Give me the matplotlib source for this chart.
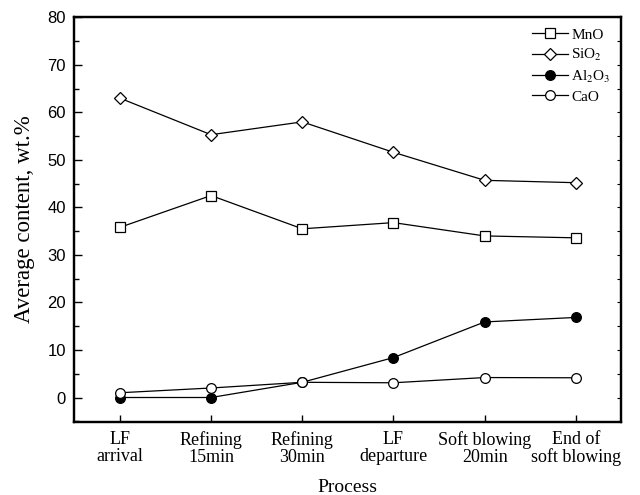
## imports
import matplotlib
matplotlib.use("Agg")
import matplotlib.pyplot as plt
from matplotlib.ticker import MultipleLocator

## data
stages = ["LF\narrival", "Refining\n15min", "Refining\n30min",
          "LF\ndeparture", "Soft blowing\n20min", "End of\nsoft blowing"]
mno = [35.8, 42.5, 35.5, 36.8, 34.0, 33.6]
sio2 = [63.0, 55.3, 58.0, 51.6, 45.7, 45.2]
al2o3 = [0.0, 0.0, 3.2, 8.4, 15.9, 16.85]
cao = [1.0, 2.0, 3.2, 3.1, 4.2, 4.15]

plt.rcParams['mathtext.fontset'] = 'stix'
serif = "Liberation Serif"
sans = "Liberation Sans"

fig = plt.figure(figsize=(6.4, 4.95), dpi=100)
ax = fig.add_axes([0.116, 0.148, 0.855, 0.817])
x = list(range(len(stages)))

## draw the four series
ax.plot(x, mno, color='black', lw=0.9, marker='s', ms=6.5, mfc='white', mec='black', mew=0.9, label='MnO')
ax.plot(x, sio2, color='black', lw=0.9, marker='D', ms=6.5, mfc='white', mec='black', mew=0.9, label='SiO$_2$')
ax.plot(x, al2o3, color='black', lw=0.9, marker='o', ms=7, mfc='black', mec='black', mew=0.9, label='Al$_2$O$_3$')
ax.plot(x, cao, color='black', lw=0.9, marker='o', ms=7, mfc='white', mec='black', mew=0.9, label='CaO')

## axes setup
ax.set_xlim(-0.5, 5.5)
ax.set_ylim(-5.1, 80)
ax.yaxis.set_major_locator(MultipleLocator(10))
ax.yaxis.set_minor_locator(MultipleLocator(5))
ax.set_xticks(x)
ax.set_xticklabels(stages, fontfamily=serif, fontsize=13, linespacing=1.0)
for lbl in ax.get_yticklabels():
    lbl.set_fontfamily(sans)
    lbl.set_fontsize(12)
ax.tick_params(axis='y', which='both', direction='in', left=True, right=False, pad=6)
ax.tick_params(axis='y', which='major', length=6, width=1)
ax.tick_params(axis='y', which='minor', length=3.5, width=1)
ax.tick_params(axis='x', direction='in', length=5, width=1, pad=7)

## inward minor ticks on the right side
ax_r = ax.twinx()
ax_r.set_ylim(ax.get_ylim())
ax_r.yaxis.set_major_locator(MultipleLocator(5))
ax_r.tick_params(axis='y', direction='in', length=3, width=0.8, labelright=False)

for s in ax.spines.values():
    s.set_linewidth(1.6)
for s in ax_r.spines.values():
    s.set_linewidth(1.6)

ax.set_xlabel("Process", fontfamily=serif, fontsize=14, labelpad=9)
ax.set_ylabel("Average content, wt.%", fontfamily=serif, fontsize=16.5, labelpad=9)

leg = ax.legend(loc='upper right', frameon=False, prop={'family': serif, 'size': 11},
                handlelength=2.4, handletextpad=0.2, labelspacing=0.35,
                borderaxespad=0.3)

fig.savefig("out.png", dpi=100)
